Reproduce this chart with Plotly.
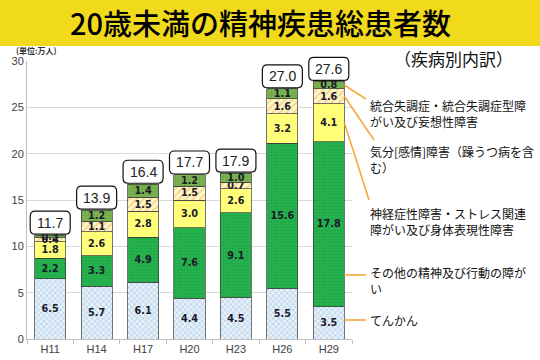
import plotly.graph_objects as go

years = ["H11", "H14", "H17", "H20", "H23", "H26", "H29"]
epilepsy = [6.5, 5.7, 6.1, 4.4, 4.5, 5.5, 3.5]
other_mental = [2.2, 3.3, 4.9, 7.6, 9.1, 15.6, 17.8]
neurotic = [1.8, 2.6, 2.8, 3.0, 2.6, 3.2, 4.1]
mood = [0.4, 1.1, 1.5, 1.5, 0.7, 1.6, 1.6]
schizo = [0.3, 1.2, 1.4, 1.2, 1.0, 1.1, 0.8]
totals = [11.7, 13.9, 16.4, 17.7, 17.9, 27.0, 27.6]

names = ["てんかん", "その他の精神及び行動の障がい",
         "神経症性障害・ストレス関連障がい及び身体表現性障害",
         "気分[感情]障害（躁うつ病を含む）",
         "統合失調症・統合失調症型障がい及び妄想性障害"]
legend_lines = ["てんかん", "その他の精神及び行動の障が<br>い",
                "神経症性障害・ストレス関連<br>障がい及び身体表現性障害",
                "気分[感情]障害（躁うつ病を含<br>む）",
                "統合失調症・統合失調症型障<br>がい及び妄想性障害"]
series = [epilepsy, other_mental, neurotic, mood, schizo]

patterns = [
    dict(shape="x", fgcolor="#7fb0dd", bgcolor="#e6f0f8", size=4, solidity=0.35),
    dict(shape=".", fgcolor="#10943a", bgcolor="#27b34f", size=3, solidity=0.35),
    dict(shape="+", fgcolor="#fbfbc8", bgcolor="#ffff6e", size=4, solidity=0.25),
    dict(shape="/", fgcolor="#e9a545", bgcolor="#fff6c8", size=5, solidity=0.3),
    dict(shape=".", fgcolor="#5a8d35", bgcolor="#7db452", size=3, solidity=0.3),
]

FONT_JP = "Noto Sans CJK JP"
W, H = 540, 360
ML, MR, MT, MB = 27, 188, 61, 21
PW, PH = W - ML - MR, H - MT - MB
YMAX = 30
BARGAP = 0.33
BOX_W, BOX_H, BOX_R = 40, 23, 5


def px_x(px):
    return (px - ML) / PW


def px_y(py):
    return (H - MB - py) / PH


def rounded_rect_path(w, h, r, y0):
    x0, x1 = -w / 2, w / 2
    y1 = y0 + h
    return (f"M {x0 + r},{y0} L {x1 - r},{y0} Q {x1},{y0} {x1},{y0 + r} "
            f"L {x1},{y1 - r} Q {x1},{y1} {x1 - r},{y1} L {x0 + r},{y1} "
            f"Q {x0},{y1} {x0},{y1 - r} L {x0},{y0 + r} Q {x0},{y0} {x0 + r},{y0} Z")


fig = go.Figure()
for name, vals, pat in zip(names, series, patterns):
    fig.add_trace(go.Bar(
        x=years, y=vals, name=name,
        marker=dict(pattern=pat, line=dict(color="#3a3a3a", width=0.7)),
        texttemplate="%{y:.1f}", textposition="inside",
        insidetextanchor="middle",
        textfont=dict(family="DejaVu Sans", size=10, color="#1a1a2a", weight="bold"),
        textangle=0, showlegend=False,
    ))

stack_tops = [sum(v) for v in zip(*series)]

annotations = []
shapes = [dict(type="rect", xref="paper", yref="paper", x0=px_x(0), x1=px_x(W),
               y0=px_y(46), y1=px_y(0), fillcolor="#f1d91c", line=dict(width=0),
               layer="below")]

n = len(years)
for i, (top, tot) in enumerate(zip(stack_tops, totals)):
    cx = (i + 0.5) / n
    cy = top / YMAX
    shapes.append(dict(
        type="path", xref="paper", yref="paper", xsizemode="pixel", ysizemode="pixel",
        xanchor=cx, yanchor=cy, path=rounded_rect_path(BOX_W, BOX_H, BOX_R, 1),
        fillcolor="#ffffff", line=dict(color="#111111", width=1.2), layer="above",
    ))
    annotations.append(dict(
        x=cx, y=cy, xref="paper", yref="paper", yanchor="middle", xanchor="center",
        yshift=1 + BOX_H / 2,
        text=f"{tot:.1f}", showarrow=False,
        font=dict(family="Liberation Sans", size=14, color="#222222"),
    ))

# legend labels on the right with leader lines
label_first_line_px = [318, 270, 211, 149, 103]
for txt, cy in zip(legend_lines, label_first_line_px):
    annotations.append(dict(
        x=px_x(368), y=px_y(cy - 8), xref="paper", yref="paper",
        xanchor="left", yanchor="top", align="left", showarrow=False,
        text=txt, font=dict(family=FONT_JP, size=12, color="#111111"),
    ))

# title & subtitles
annotations.append(dict(
    x=px_x(260), y=px_y(22), xref="paper", yref="paper",
    xanchor="center", yanchor="middle", showarrow=False,
    text="20歳未満の精神疾患総患者数",
    font=dict(family=FONT_JP, size=29, color="#000000", weight=500),
))
annotations.append(dict(
    x=px_x(453), y=px_y(58), xref="paper", yref="paper",
    xanchor="center", yanchor="middle", showarrow=False,
    text="（疾病別内訳）", font=dict(family=FONT_JP, size=17, color="#111111"),
))
annotations.append(dict(
    x=px_x(14), y=px_y(50), xref="paper", yref="paper",
    xanchor="left", yanchor="middle", showarrow=False,
    text="(単位:万人)", font=dict(family=FONT_JP, size=8, color="#333333", weight="bold"),
))

# leader lines from last bar to labels
last = n - 1
bar_right = (last + 0.5 + (1 - BARGAP) / 2) / n
bottoms = []
acc = 0
for vals in series:
    bottoms.append(acc)
    acc += vals[last]
ends_px = [(366, 320), (366, 275), (369, 200), (374, 140), (366, 99)]
for i, (vals, (ex, ey)) in enumerate(zip(series, ends_px)):
    if i < 2:
        y0 = px_y(ey)
    else:
        y0 = (bottoms[i] + vals[last] / 2) / YMAX
    shapes.append(dict(type="line", xref="paper", yref="paper",
                       x0=bar_right, y0=y0, x1=px_x(ex), y1=px_y(ey),
                       line=dict(color="#f5a93a", width=1.6)))

fig.update_layout(
    barmode="stack", bargap=BARGAP,
    width=W, height=H,
    margin=dict(l=ML, r=MR, t=MT, b=MB, autoexpand=False),
    paper_bgcolor="#ffffff", plot_bgcolor="#ffffff",
    uniformtext=dict(minsize=9, mode="show"),
    annotations=annotations, shapes=shapes,
    xaxis=dict(showgrid=False, showline=True, linecolor="#bfbfbf", automargin=False,
               ticks="outside", tickson="boundaries", ticklen=4, tickcolor="#bfbfbf",
               tickfont=dict(family="Liberation Sans", size=11, color="#404040")),
    yaxis=dict(range=[0, YMAX], dtick=5, showgrid=True, gridcolor="#d9d9d9",
               showline=True, linecolor="#bfbfbf", zeroline=False, automargin=False,
               ticks="", tickfont=dict(family="Liberation Sans", size=11, color="#404040")),
)

fig.write_html("out.html", config={"displayModeBar": False},
               post_script="document.body.style.margin='0';document.body.style.padding='0';")
